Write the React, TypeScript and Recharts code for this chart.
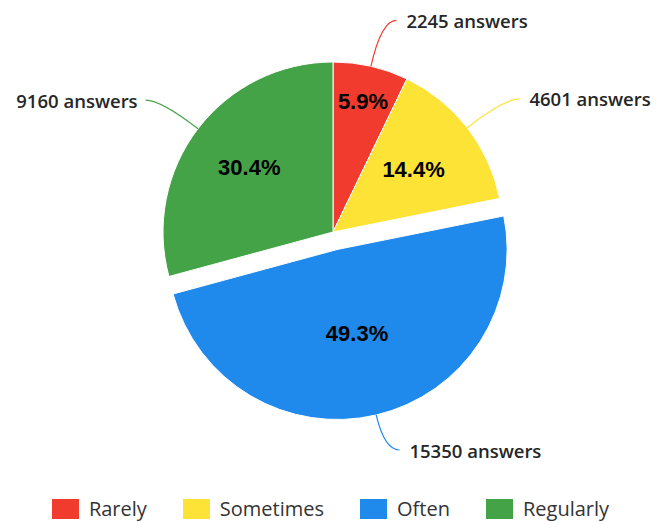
import React from "react";
import { PieChart, Pie, Cell, Legend } from "recharts";

const categories = ["Rarely", "Sometimes", "Often", "Regularly"];
const answers = [2245, 4601, 15350, 9160];
const percentLabels = ["5.9%", "14.4%", "49.3%", "30.4%"];
const colors = ["#F23B2F", "#FDE335", "#1F8AEC", "#45A347"];

const EXPLODED = 2;
const CX = 333;
const CY = 232;
const R = 170;
const RADIAN = Math.PI / 180;

// how far in the slice the percentage sits (fraction of radius)
const innerLabelRadius = [0.79, 0.6, 0.51, 0.62];

const data = categories.map((name, i) => ({ name, value: answers[i], pct: percentLabels[i] }));

// shift the exploded slice out along its mid angle
const total = answers.reduce((a, b) => a + b, 0);
const before = answers.slice(0, EXPLODED).reduce((a, b) => a + b, 0);
const midDeg = ((before + answers[EXPLODED] / 2) / total) * 360;
const SHIFT = 18;
const dx = Math.sin(midDeg * RADIAN) * SHIFT;
const dy = -Math.cos(midDeg * RADIAN) * SHIFT;

const makeLabel = (visible: (i: number) => boolean) => (props: any) => {
  const { cx, cy, midAngle, outerRadius, index } = props;
  if (!visible(index)) return null;
  const cos = Math.cos(-midAngle * RADIAN);
  const sin = Math.sin(-midAngle * RADIAN);
  const ri = outerRadius * innerLabelRadius[index];
  const sx = cx + outerRadius * cos;
  const sy = cy + outerRadius * sin;
  const ext = sin > 0 ? 36 : 47;
  const px = cx + (outerRadius + ext) * cos;
  const py = cy + (outerRadius + ext) * sin;
  const right = cos >= 0;
  const ex = px + (right ? 15 : -15);
  return (
    <g>
      <path
        d={`M${sx},${sy} Q${px},${py} ${ex},${py}`}
        stroke={colors[index]}
        strokeWidth={1.2}
        fill="none"
      />
      <text
        x={ex + (right ? 10 : -8)}
        y={py}
        textAnchor={right ? "start" : "end"}
        dominantBaseline="central"
        fontFamily="'Open Sans', Lato, sans-serif"
        fontWeight={600}
        fontSize={18.5}
        fill="#262626"
      >
        {answers[index]} answers
      </text>
      <text
        x={cx + ri * cos}
        y={cy + ri * sin}
        textAnchor="middle"
        dominantBaseline="central"
        fontFamily="'Liberation Sans', Arial, sans-serif"
        fontWeight={700}
        fontSize={22}
        fill="#000"
      >
        {percentLabels[index]}
      </text>
    </g>
  );
};

const renderLegend = () => (
  <div style={{ display: "flex", justifyContent: "center", gap: 36, fontFamily: "'Open Sans', Lato, sans-serif" }}>
    {categories.map((c, i) => (
      <div key={c} style={{ display: "flex", alignItems: "center" }}>
        <span style={{ display: "inline-block", width: 27, height: 20, background: colors[i], marginRight: 10 }} />
        <span style={{ fontSize: 20, color: "#333" }}>{c}</span>
      </div>
    ))}
  </div>
);

export default function App() {
  return (
    <div style={{ position: "absolute", left: 0, top: 0, background: "#fff" }}>
      <PieChart width={661} height={522} margin={{ top: 0, right: 0, bottom: 0, left: 0 }}>
        <Pie
          data={data}
          dataKey="value"
          cx={CX}
          cy={CY}
          outerRadius={R}
          startAngle={90}
          endAngle={-270}
          label={makeLabel((i) => i !== EXPLODED)}
          labelLine={false}
          isAnimationActive={false}
        >
          {data.map((d, i) => (
            <Cell
              key={d.name}
              fill={i === EXPLODED ? "none" : colors[i]}
              stroke={i === EXPLODED ? "none" : "#fff"}
              strokeWidth={1}
            />
          ))}
        </Pie>
        <Pie
          data={data}
          dataKey="value"
          cx={CX + dx}
          cy={CY + dy}
          outerRadius={R}
          startAngle={90}
          endAngle={-270}
          label={makeLabel((i) => i === EXPLODED)}
          labelLine={false}
          isAnimationActive={false}
        >
          {data.map((d, i) => (
            <Cell
              key={d.name}
              fill={i === EXPLODED ? colors[i] : "none"}
              stroke={i === EXPLODED ? "#fff" : "none"}
              strokeWidth={1}
            />
          ))}
        </Pie>
        <Legend verticalAlign="bottom" content={renderLegend} wrapperStyle={{ bottom: 0 }} />
      </PieChart>
    </div>
  );
}
